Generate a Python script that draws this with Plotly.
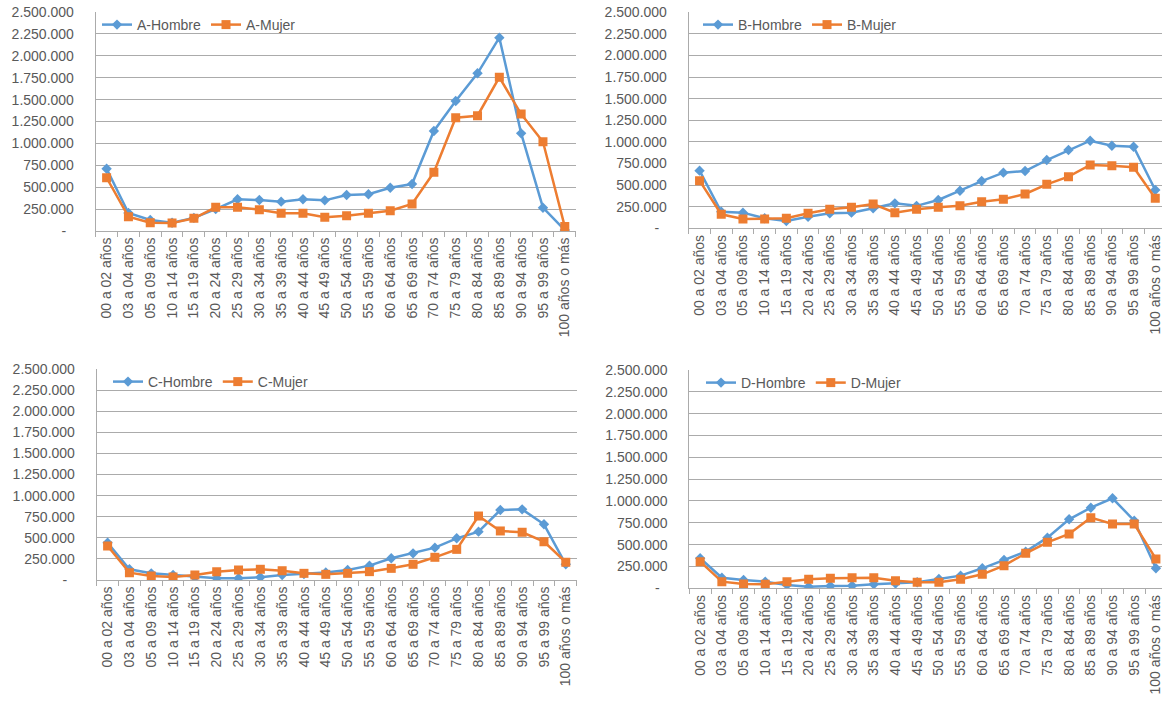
import plotly.graph_objects as go

categories = ["00 a 02 años", "03 a 04 años", "05 a 09 años", "10 a 14 años", "15 a 19 años",
              "20 a 24 años", "25 a 29 años", "30 a 34 años", "35 a 39 años", "40 a 44 años",
              "45 a 49 años", "50 a 54 años", "55 a 59 años", "60 a 64 años", "65 a 69 años",
              "70 a 74 años", "75 a 79 años", "80 a 84 años", "85 a 89 años", "90 a 94 años",
              "95 a 99 años", "100 años o más"]

A_hombre = [710000, 205000, 125000, 95000, 150000, 250000, 362000, 354000, 335000, 363000, 350000,
            411000, 419000, 494000, 536000, 1142000, 1484000, 1800000, 2207000, 1115000, 266000, 10000]
A_mujer = [608000, 163000, 95000, 90000, 145000, 270000, 270000, 243000, 202000, 202000, 158000,
           175000, 202000, 232000, 308000, 670000, 1293000, 1316000, 1754000, 1335000, 1019000, 50000]

B_hombre = [667000, 192000, 181000, 116000, 85000, 134000, 174000, 181000, 231000, 289000, 260000,
            328000, 435000, 547000, 644000, 663000, 790000, 906000, 1014000, 956000, 944000, 443000]
B_mujer = [551000, 162000, 108000, 108000, 116000, 174000, 220000, 243000, 281000, 181000, 220000,
           243000, 262000, 308000, 336000, 397000, 509000, 597000, 733000, 725000, 706000, 347000]

C_hombre = [442000, 127000, 79000, 59000, 32000, 20000, 20000, 32000, 59000, 70000, 88000,
            118000, 170000, 257000, 316000, 383000, 494000, 573000, 829000, 837000, 660000, 186000]
C_mujer = [403000, 87000, 47000, 35000, 59000, 99000, 118000, 127000, 110000, 79000, 67000,
           79000, 99000, 138000, 186000, 269000, 363000, 758000, 581000, 565000, 454000, 210000]

D_hombre = [344000, 121000, 95000, 76000, 38000, 19000, 26000, 30000, 46000, 55000, 70000,
            107000, 145000, 229000, 324000, 420000, 580000, 790000, 923000, 1031000, 774000, 229000]
D_mujer = [305000, 76000, 49000, 46000, 76000, 103000, 114000, 121000, 121000, 87000, 69000,
           69000, 103000, 160000, 259000, 401000, 527000, 622000, 809000, 736000, 736000, 336000]

y_tickvals = [0, 250000, 500000, 750000, 1000000, 1250000, 1500000, 1750000, 2000000, 2250000, 2500000]
y_ticktext = ["-\u00a0\u00a0", "250.000", "500.000", "750.000", "1.000.000", "1.250.000", "1.500.000",
              "1.750.000", "2.000.000", "2.250.000", "2.500.000"]

W, H = 1162, 703
BLUE = "#5B9BD5"
ORANGE = "#ED7D31"
GRID = "#ABABAB"
TXT = "#595959"
FONT = "Liberation Sans"

panels = [
    # name, hombre, mujer, x px domain, y px (top, bottom), x range end, legend pos
    ("A", A_hombre, A_mujer, (95.7, 575.7), (12.0, 231.0), 21.5, (97, 25)),
    ("B", B_hombre, B_mujer, (688.7, 1162.0), (12.3, 228.3), 21.31, (698, 25)),
    ("C", C_hombre, C_mujer, (96.7, 576.7), (369.0, 580.0), 21.5, (108, 382)),
    ("D", D_hombre, D_mujer, (689.3, 1162.0), (370.0, 588.3), 21.28, (701, 383)),
]

fig = go.Figure()
layout = dict(width=W, height=H, margin=dict(l=0, r=0, t=0, b=0, autoexpand=False),
              paper_bgcolor="white", plot_bgcolor="white",
              font=dict(family=FONT, size=14, color=TXT))

for k, (name, hv, mv, xd, yd, xend, lp) in enumerate(panels):
    idx = "" if k == 0 else str(k + 1)
    leg = "legend" if k == 0 else "legend" + str(k + 1)
    fig.add_trace(go.Scatter(x=categories, y=hv, name=name + "-Hombre", mode="lines+markers",
                             line=dict(color=BLUE, width=2.5),
                             marker=dict(symbol="diamond", size=8, color=BLUE),
                             xaxis="x" + idx, yaxis="y" + idx, legend=leg))
    fig.add_trace(go.Scatter(x=categories, y=mv, name=name + "-Mujer", mode="lines+markers",
                             line=dict(color=ORANGE, width=2.5),
                             marker=dict(symbol="square", size=9, color=ORANGE),
                             xaxis="x" + idx, yaxis="y" + idx, legend=leg))
    layout["xaxis" + idx] = dict(
        domain=[xd[0] / W, xd[1] / W], anchor="y" + idx, type="category",
        range=[-0.5, xend], tickangle=-90, showgrid=False, automargin=False,
        showline=True, linecolor=GRID, linewidth=1,
        ticks="outside", tickson="boundaries", ticklen=5, tickcolor=GRID,
        tickfont=dict(family=FONT, size=14, color=TXT), fixedrange=True)
    layout["yaxis" + idx] = dict(
        domain=[1 - yd[1] / H, 1 - yd[0] / H], anchor="x" + idx, automargin=False,
        range=[0, 2500000], tickvals=y_tickvals, ticktext=y_ticktext,
        showgrid=True, gridcolor=GRID, gridwidth=1, zeroline=False,
        showline=True, linecolor=GRID, linewidth=1, ticks="",
        ticklabelstandoff=18,
        tickfont=dict(family=FONT, size=14, color=TXT), fixedrange=True)
    layout[leg] = dict(x=lp[0] / W, y=1 - lp[1] / H, xanchor="left", yanchor="middle",
                       orientation="h", bgcolor="rgba(0,0,0,0)",
                       font=dict(family=FONT, size=14, color=TXT),
                       itemwidth=30, tracegroupgap=0)

fig.update_layout(**layout)
fig.write_html("out.html", config={"displayModeBar": False},
               post_script="document.body.style.margin='0';document.body.style.padding='0';"
                           "document.body.style.overflow='hidden';"
                           "document.documentElement.style.overflow='hidden';")
